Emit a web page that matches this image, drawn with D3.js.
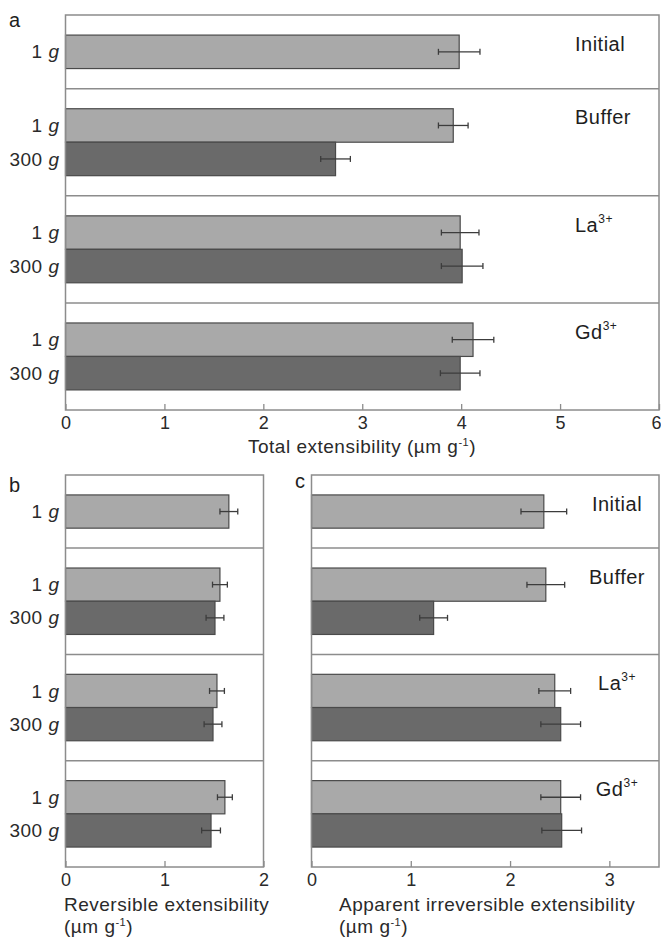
<!DOCTYPE html>
<html>
<head>
<meta charset="utf-8">
<script src="https://cdn.jsdelivr.net/npm/d3@7"></script>
<style>
	body { margin: 0; background: #fff; }
	svg { display: block; font-family: "Liberation Sans", Arial, sans-serif; }
</style>
</head>
<body>
<svg id="chart" width="661" height="938"></svg>
<script>
// treatments (panels) and loads (rows)
var groups = ["Initial", "Buffer", "La", "Gd"];
var groupSup = ["", "", "3+", "3+"];
var loads = ["1", "300"];

// total extensibility, means and errors, per group: [1 g, 300 g]
var totalMean = [[3.98], [3.92, 2.73], [3.99, 4.01], [4.12, 3.99]];
var totalErr = [[0.21], [0.15, 0.15], [0.19, 0.21], [0.21, 0.20]];

// reversible extensibility
var revMean = [[1.65], [1.56, 1.51], [1.53, 1.49], [1.61, 1.47]];
var revErr = [[0.09], [0.075, 0.09], [0.075, 0.09], [0.075, 0.095]];

// apparent irreversible extensibility
var irrMean = [[2.34], [2.36, 1.23], [2.45, 2.51], [2.51, 2.52]];
var irrErr = [[0.23], [0.19, 0.14], [0.16, 0.20], [0.20, 0.20]];

var totalTicks = [0, 1, 2, 3, 4, 5, 6];
var revTicks = [0, 1, 2];
var irrTicks = [0, 1, 2, 3];

var svg = d3.select("#chart");

var lightFill = "#a9a9a9", darkFill = "#6a6a6a";
var frameColor = "#8c8c8c";
var PAD = 0.6; // gap above/below the bars inside a panel, in bar units

function drawPanel(p){
	var g = svg.append("g");

	var x = d3.scaleLinear().domain([0, p.xmax]).range([p.left, p.right]);

	// panel heights in bar units
	var starts = [], total = 0;
	p.means.forEach(function(m){
		starts.push(total);
		total += m.length + 2 * PAD;
	});
	var y = d3.scaleLinear().domain([0, total]).range([p.top, p.bottom]);

	// rows
	var rows = [];
	p.means.forEach(function(m, gi){
		m.forEach(function(v, i){
			rows.push({group: gi, load: i, value: v, err: p.errs[gi][i],
				y0: starts[gi] + PAD + i, y1: starts[gi] + PAD + i + 1});
		});
	});

	g.selectAll("rect.bar")
		.data(rows)
		.enter().append("rect")
		.attr("class", "bar")
		.attr("x", x(0))
		.attr("y", function(d){ return y(d.y0); })
		.attr("width", function(d){ return x(d.value) - x(0); })
		.attr("height", function(d){ return y(d.y1) - y(d.y0); })
		.style("fill", function(d){ return d.load == 0 ? lightFill : darkFill; })
		.style("stroke", "#4a4a4a")
		.style("stroke-width", 1.2);

	// error bars
	var eb = g.selectAll("g.err")
		.data(rows)
		.enter().append("g")
		.attr("class", "err")
		.style("stroke", "#3c3c3c")
		.style("stroke-width", 1.3);
	function cy(d){ return (y(d.y0) + y(d.y1)) / 2; }
	eb.append("line")
		.attr("x1", function(d){ return x(d.value - d.err); })
		.attr("x2", function(d){ return x(d.value + d.err); })
		.attr("y1", cy).attr("y2", cy);
	[-1, 1].forEach(function(s){
		eb.append("line")
			.attr("x1", function(d){ return x(d.value + s * d.err); })
			.attr("x2", function(d){ return x(d.value + s * d.err); })
			.attr("y1", function(d){ return cy(d) - 3; })
			.attr("y2", function(d){ return cy(d) + 3; });
	});

	// frame and dividers
	g.append("rect")
		.attr("x", p.left).attr("y", p.top)
		.attr("width", p.right - p.left).attr("height", p.bottom - p.top)
		.style("fill", "none").style("stroke", frameColor).style("stroke-width", 1.5);
	g.selectAll("line.div")
		.data(starts.slice(1))
		.enter().append("line")
		.attr("class", "div")
		.attr("x1", p.left).attr("x2", p.right)
		.attr("y1", function(d){ return y(d); }).attr("y2", function(d){ return y(d); })
		.style("stroke", frameColor).style("stroke-width", 1.5);

	// load labels
	if(p.loadLabels){
		var lt = g.selectAll("text.load")
			.data(rows)
			.enter().append("text")
			.attr("class", "load")
			.attr("x", p.left - 6)
			.attr("y", function(d){ return cy(d); })
			.attr("dy", "0.35em")
			.attr("text-anchor", "end")
			.style("font-size", "19px")
			.style("letter-spacing", "0.5px")
			.style("fill", "#2a2a2a");
		lt.append("tspan").text(function(d){ return loads[d.load] + " "; });
		lt.append("tspan").style("font-style", "italic").text("g");
	}

	// treatment labels
	if(p.groupLabels){
		var gt = g.selectAll("text.grp")
			.data(groups)
			.enter().append("text")
			.attr("class", "grp")
			.attr("x", p.groupX)
			.attr("y", function(d, i){ return y(starts[i] + PAD + 0.5) - 1; })
			.attr("text-anchor", p.groupAnchor)
			.style("font-size", "20px")
			.style("letter-spacing", "0.5px")
			.style("fill", "#1e1e1e");
		gt.append("tspan").text(function(d){ return d; });
		gt.append("tspan")
			.attr("dy", -9)
			.style("font-size", "12px")
			.text(function(d, i){ return groupSup[i]; });
	}

	// axis
	var axis = d3.axisBottom(x)
		.tickValues(p.ticks)
		.tickFormat(d3.format("d"))
		.tickSize(-6)
		.tickPadding(6);
	var ag = g.append("g")
		.attr("transform", "translate(0," + p.bottom + ")")
		.call(axis);
	ag.select(".domain").remove();
	ag.selectAll(".tick line").style("stroke", frameColor).style("stroke-width", 1.3);
	ag.selectAll(".tick text")
		.style("font-size", "18px")
		.style("font-family", "Liberation Sans, Arial, sans-serif")
		.style("fill", "#2a2a2a");
	// last label sits on the page edge, keep it inside
	if(p.right > 655){
		ag.selectAll(".tick text")
			.filter(function(d){ return d == p.xmax; })
			.attr("text-anchor", "end")
			.attr("dx", 2);
	}

	// axis title
	p.title.forEach(function(line, li){
		var t = g.append("text")
			.attr("x", p.titleX)
			.attr("y", p.titleY + li * 22)
			.attr("text-anchor", p.titleAnchor)
			.style("font-size", "19px")
			.style("letter-spacing", "0.5px")
			.style("fill", "#2a2a2a");
		t.append("tspan").text(line[0]);
		if(line.length > 1){
			t.append("tspan").attr("dy", -7).style("font-size", "11px").text(line[1]);
			t.append("tspan").attr("dy", 7).text(line[2]);
		}
	});

	// panel letter
	g.append("text")
		.attr("x", p.letterX).attr("y", p.letterY)
		.style("font-size", "20px")
		.style("fill", "#1e1e1e")
		.text(p.letter);
}

drawPanel({
	left: 65.5, right: 659, top: 15, bottom: 410,
	xmax: 6, ticks: totalTicks,
	means: totalMean, errs: totalErr,
	loadLabels: true, groupLabels: true, groupX: 575, groupAnchor: "start",
	title: [["Total extensibility (µm g", "-1", ")"]], titleX: 362, titleY: 453, titleAnchor: "middle",
	letter: "a", letterX: 9, letterY: 27
});

drawPanel({
	left: 65.5, right: 263.5, top: 475, bottom: 867,
	xmax: 2, ticks: revTicks,
	means: revMean, errs: revErr,
	loadLabels: true, groupLabels: false,
	title: [["Reversible extensibility"], ["(µm g", "-1", ")"]], titleX: 64, titleY: 911, titleAnchor: "start",
	letter: "b", letterX: 9, letterY: 492
});

drawPanel({
	left: 311.5, right: 659, top: 475, bottom: 867,
	xmax: 3.5, ticks: irrTicks,
	means: irrMean, errs: irrErr,
	loadLabels: false, groupLabels: true, groupX: 617, groupAnchor: "middle",
	title: [["Apparent irreversible extensibility"], ["(µm g", "-1", ")"]], titleX: 339, titleY: 911, titleAnchor: "start",
	letter: "c", letterX: 295, letterY: 488
});
</script>
</body>
</html>
